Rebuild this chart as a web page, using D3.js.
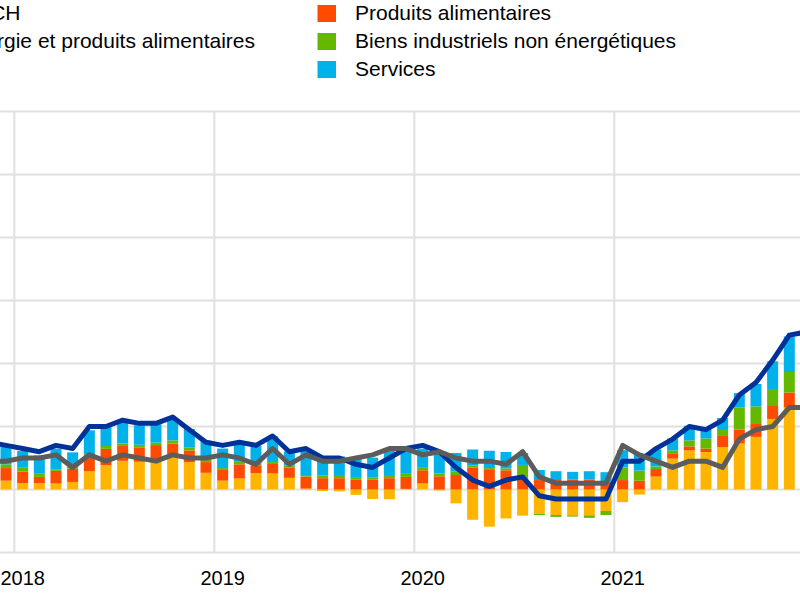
<!DOCTYPE html>
<html>
<head>
<meta charset="utf-8">
<script src="https://cdn.jsdelivr.net/npm/d3@7"></script>
<style>
  body { margin: 0; background: #fff; }
  svg { display: block; font-family: "Liberation Sans", Arial, sans-serif; }
</style>
</head>
<body>
<div id="chart"></div>
<script>
// months shown (the picture starts in late 2017 and is cut off at the end of 2021)
var months = [
  "2017-11","2017-12",
  "2018-01","2018-02","2018-03","2018-04","2018-05","2018-06","2018-07","2018-08","2018-09","2018-10","2018-11","2018-12",
  "2019-01","2019-02","2019-03","2019-04","2019-05","2019-06","2019-07","2019-08","2019-09","2019-10","2019-11","2019-12",
  "2020-01","2020-02","2020-03","2020-04","2020-05","2020-06","2020-07","2020-08","2020-09","2020-10","2020-11","2020-12",
  "2021-01","2021-02","2021-03","2021-04","2021-05","2021-06","2021-07","2021-08","2021-09","2021-10","2021-11","2021-12"
];

// IPCH, annual rate (%)
var hicp = [1.5, 1.4,
  1.3, 1.2, 1.4, 1.3, 2.0, 2.0, 2.2, 2.1, 2.1, 2.3, 1.9, 1.5,
  1.4, 1.5, 1.4, 1.7, 1.2, 1.3, 1.0, 1.0, 0.8, 0.7, 1.0, 1.3,
  1.4, 1.2, 0.7, 0.3, 0.1, 0.3, 0.4, -0.2, -0.3, -0.3, -0.3, -0.3,
  0.9, 0.9, 1.3, 1.6, 2.0, 1.9, 2.2, 3.0, 3.4, 4.1, 4.9, 5.0];

// IPCH hors énergie et produits alimentaires
var core = [0.9, 0.9,
  1.0, 1.0, 1.1, 0.7, 1.1, 0.9, 1.1, 1.0, 0.9, 1.1, 1.0, 1.0,
  1.1, 1.0, 0.8, 1.3, 0.8, 1.1, 0.9, 0.9, 1.0, 1.1, 1.3, 1.3,
  1.1, 1.2, 1.0, 0.9, 0.9, 0.8, 1.2, 0.4, 0.2, 0.2, 0.2, 0.2,
  1.4, 1.1, 0.9, 0.7, 0.9, 0.9, 0.7, 1.6, 1.9, 2.0, 2.6, 2.6];

// contributions (percentage points)
var energy = [0.45, 0.28,
  0.20, 0.20, 0.19, 0.24, 0.58, 0.77, 0.91, 0.88, 0.91, 1.03, 0.87, 0.53,
  0.28, 0.35, 0.52, 0.51, 0.37, 0.03, -0.05, -0.06, -0.17, -0.30, -0.31, 0.02,
  0.19, -0.03, -0.44, -0.96, -1.18, -0.92, -0.83, -0.77, -0.81, -0.82, -0.82, -0.68,
  -0.40, -0.16, 0.41, 0.98, 1.24, 1.19, 1.35, 1.46, 1.67, 2.24, 2.60, 2.46];

var food = [0.43, 0.40,
  0.37, 0.20, 0.40, 0.42, 0.48, 0.52, 0.47, 0.46, 0.50, 0.43, 0.37, 0.34,
  0.34, 0.45, 0.25, 0.30, 0.32, 0.38, 0.36, 0.36, 0.31, 0.31, 0.36, 0.38,
  0.42, 0.42, 0.46, 0.69, 0.62, 0.61, 0.35, 0.30, 0.30, 0.32, 0.32, 0.25,
  0.30, 0.28, 0.24, 0.15, 0.13, 0.11, 0.35, 0.44, 0.41, 0.41, 0.48, 0.70];

var neig = [0.10, 0.12,
  0.12, 0.10, 0.05, 0.06, 0.06, 0.09, 0.08, 0.08, 0.08, 0.10, 0.10, 0.10,
  0.06, 0.10, 0.06, 0.06, 0.07, 0.05, 0.08, 0.07, 0.06, 0.07, 0.10, 0.12,
  0.08, 0.09, 0.12, 0.08, 0.06, 0.06, 0.43, -0.04, -0.06, -0.04, -0.08, -0.13,
  0.40, 0.32, 0.08, 0.11, 0.19, 0.32, 0.19, 0.70, 0.56, 0.54, 0.65, 0.78];

var services = [0.53, 0.57,
  0.53, 0.58, 0.66, 0.46, 0.76, 0.60, 0.68, 0.62, 0.58, 0.68, 0.58, 0.58,
  0.62, 0.60, 0.55, 0.82, 0.45, 0.78, 0.58, 0.62, 0.62, 0.63, 0.80, 0.78,
  0.61, 0.65, 0.58, 0.50, 0.55, 0.52, 0.38, 0.32, 0.28, 0.24, 0.26, 0.30,
  0.55, 0.54, 0.54, 0.38, 0.46, 0.29, 0.38, 0.46, 0.71, 0.88, 1.13, 1.00];

var yTicks = [-2, 0, 2, 4, 6, 8, 10, 12];
var yearTicks = ["2018-01", "2019-01", "2020-01", "2021-01"];
var yearLabels = ["2018", "2019", "2020", "2021"];

var keys = ["energy", "food", "neig", "services"];
var colors = {
  energy: "#ffb400",
  food: "#ff4b00",
  neig: "#65b800",
  services: "#00b1ea",
  hicp: "#003299",
  core: "#5c5c5c"
};

var svgWidth = 800;
var svgHeight = 600;

// the plot area runs past both edges of the picture
var plotLeft = -19;
var plotRight = 814.3;
var plotTop = 111.5;
var plotBottom = 552.5;

var svg = d3.select("#chart")
  .append("svg")
  .attr("width", svgWidth)
  .attr("height", svgHeight);

var x = d3.scaleBand()
  .domain(months)
  .range([plotLeft, plotRight])
  .paddingInner(0.34)
  .paddingOuter(0.17);

var y = d3.scaleLinear()
  .domain([-2, 12])
  .range([plotBottom, plotTop]);

// start of a month's slot (where the year gridlines sit)
function slotStart(m) {
  return x(m) + x.bandwidth() / 2 - x.step() / 2;
}
function center(m) {
  return x(m) + x.bandwidth() / 2;
}

// gridlines
var grid = svg.append("g");
grid.selectAll("line.h")
  .data(yTicks)
  .enter()
  .append("line")
  .attr("class", "h")
  .attr("x1", plotLeft - 150)
  .attr("x2", plotRight)
  .attr("y1", d => y(d))
  .attr("y2", d => y(d))
  .attr("stroke", "#e0e0e0")
  .attr("stroke-width", 2);

grid.selectAll("line.v")
  .data(yearTicks)
  .enter()
  .append("line")
  .attr("class", "v")
  .attr("x1", d => slotStart(d))
  .attr("x2", d => slotStart(d))
  .attr("y1", y(12))
  .attr("y2", y(-2))
  .attr("stroke", "#e0e0e0")
  .attr("stroke-width", 2);

// stacked contributions
var table = months.map(function(m, i) {
  return { month: m, energy: energy[i], food: food[i], neig: neig[i], services: services[i] };
});

var series = d3.stack()
  .keys(keys)
  .offset(d3.stackOffsetDiverging)(table);

svg.append("g")
  .selectAll("g")
  .data(series)
  .enter()
  .append("g")
  .attr("fill", d => colors[d.key])
  .selectAll("rect")
  .data(d => d)
  .enter()
  .append("rect")
  .attr("x", d => x(d.data.month))
  .attr("width", x.bandwidth())
  .attr("y", d => y(Math.max(d[0], d[1])))
  .attr("height", d => Math.abs(y(d[0]) - y(d[1])));

// lines
var line = d3.line()
  .x((d, i) => center(months[i]))
  .y(d => y(d));

svg.append("path")
  .datum(hicp)
  .attr("d", line)
  .attr("fill", "none")
  .attr("stroke", colors.hicp)
  .attr("stroke-width", 5)
  .attr("stroke-linejoin", "round");

svg.append("path")
  .datum(core)
  .attr("d", line)
  .attr("fill", "none")
  .attr("stroke", colors.core)
  .attr("stroke-width", 5)
  .attr("stroke-linejoin", "round");

// x axis: year under the January bar
var xAxis = d3.axisBottom(x)
  .tickValues(yearTicks)
  .tickFormat((d, i) => yearLabels[i])
  .tickSize(0)
  .tickPadding(18);

var xAxisGroup = svg.append("g")
  .attr("transform", `translate(0, ${plotBottom})`)
  .call(xAxis)
  .attr("font-family", "'Liberation Sans', Arial, sans-serif")
  .attr("font-size", 20);
xAxisGroup.select(".domain").remove();
xAxisGroup.selectAll("text").attr("fill", "#000");

// legend (left column is cut off by the picture's edge)
var legend = svg.append("g").attr("font-size", 21).attr("fill", "#000");

var leftItems = [
  { label: "IPCH", color: colors.hicp, end: 20.5 },
  { label: "IPCH hors énergie et produits alimentaires", color: colors.core, end: 255 }
];
leftItems.forEach(function(item, row) {
  legend.append("text")
    .attr("x", item.end)
    .attr("y", 20 + row * 28)
    .attr("text-anchor", "end")
    .text(item.label);
});
legend.append("text")
  .attr("x", -141)
  .attr("y", 76)
  .text("Énergie");
legend.append("rect")
  .attr("x", -170)
  .attr("y", 61)
  .attr("width", 18.5)
  .attr("height", 17)
  .attr("fill", colors.energy);

var rightItems = [
  { label: "Produits alimentaires", key: "food" },
  { label: "Biens industriels non énergétiques", key: "neig" },
  { label: "Services", key: "services" }
];
rightItems.forEach(function(item, row) {
  legend.append("rect")
    .attr("x", 317.5)
    .attr("y", 5 + row * 28)
    .attr("width", 18.5)
    .attr("height", 17)
    .attr("fill", colors[item.key]);
  legend.append("text")
    .attr("x", 355)
    .attr("y", 20 + row * 28)
    .text(item.label);
});
</script>
</body>
</html>
